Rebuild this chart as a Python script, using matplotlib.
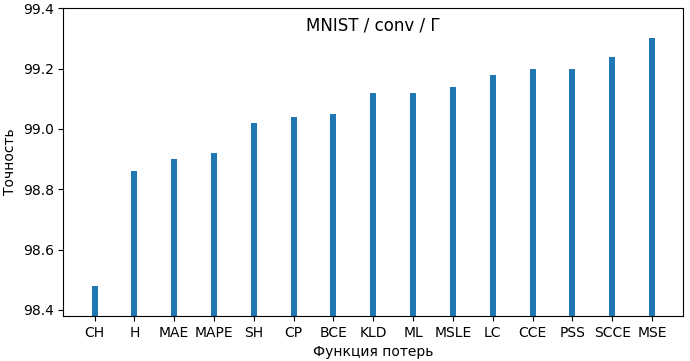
import matplotlib
matplotlib.use("Agg")
import matplotlib.pyplot as plt

categories = ["CH", "H", "MAE", "MAPE", "SH", "CP", "BCE", "KLD", "ML", "MSLE", "LC", "CCE", "PSS", "SCCE", "MSE"]
accuracy = [98.48, 98.86, 98.90, 98.92, 99.02, 99.04, 99.05, 99.12, 99.12, 99.14, 99.18, 99.20, 99.20, 99.24, 99.30]
yticks = [98.4, 98.6, 98.8, 99.0, 99.2, 99.4]

fig = plt.figure(figsize=(6.9, 3.61), dpi=100)
ax = fig.add_axes([0.092, 0.125, 0.898, 0.852])
ax.bar(range(len(categories)), accuracy, width=0.15, color="#1f77b4")
ax.set_xticks(range(len(categories)))
ax.set_xticklabels(categories)
ax.set_ylim(98.38, 99.4)
ax.set_yticks(yticks)
ax.set_xlabel("Функция потерь")
ax.set_ylabel("Точность")
ax.set_title("MNIST / conv / Г", y=0.9, fontsize=12)
fig.savefig("out.png", dpi=100)
